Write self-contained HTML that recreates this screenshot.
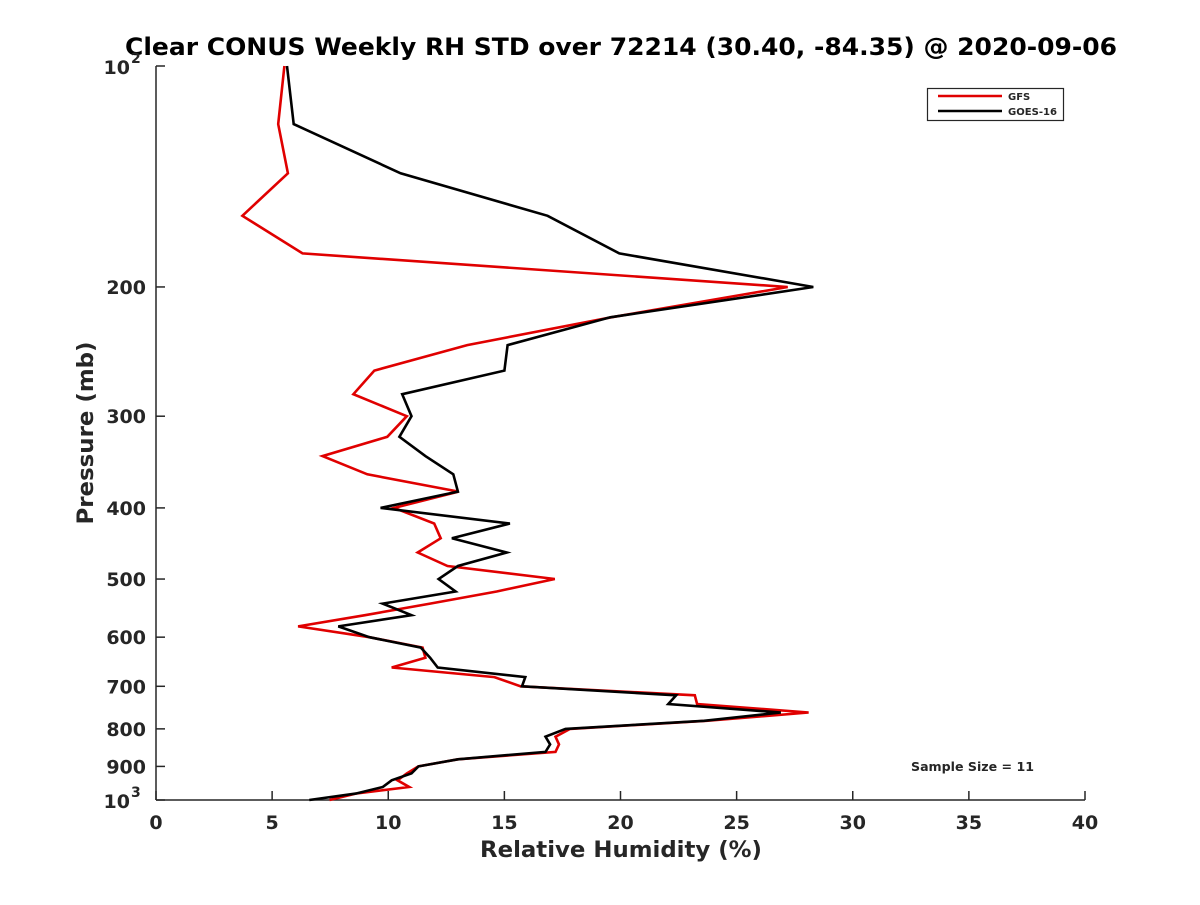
<!DOCTYPE html>
<html><head><meta charset="utf-8"><style>
html,body{margin:0;padding:0;background:#fff;}
svg text{font-family:"DejaVu Sans","Liberation Sans",sans-serif;font-weight:bold;fill:#262626;}
</style></head><body>
<svg id="chart" width="1200" height="900" viewBox="0 0 1200 900">
<rect width="1200" height="900" fill="#fff"/>
<text x="621" y="55" font-size="24" text-anchor="middle" textLength="992" lengthAdjust="spacingAndGlyphs" style="fill:#000">Clear CONUS Weekly RH STD over 72214 (30.40, -84.35) @ 2020-09-06</text>
<g id="axes"></g>
<g id="series"></g>
<text x="621" y="857" font-size="22" text-anchor="middle" textLength="282" lengthAdjust="spacingAndGlyphs">Relative Humidity (%)</text>
<text transform="translate(93,433) rotate(-90)" font-size="22" text-anchor="middle" textLength="183" lengthAdjust="spacingAndGlyphs">Pressure (mb)</text>
<text x="911" y="771" font-size="12" textLength="123" lengthAdjust="spacingAndGlyphs">Sample Size = 11</text>
<g>
<rect x="927.5" y="88.5" width="136" height="32" fill="#fff" stroke="#262626" stroke-width="1.2"/>
<line x1="938" y1="96" x2="1002" y2="96" stroke="#e00000" stroke-width="2.5"/>
<text x="1008" y="100" font-size="10">GFS</text>
<line x1="938" y1="111" x2="1002" y2="111" stroke="#000" stroke-width="2.5"/>
<text x="1008" y="115" font-size="10" textLength="49" lengthAdjust="spacingAndGlyphs">GOES-16</text>
</g>
</svg>
<script>
const pressures = [100,120,140,160,180,200,220,240,260,280,300,320,340,360,380,400,420,440,460,480,500,520,540,560,580,600,620,640,660,680,700,720,740,760,780,800,820,840,860,880,900,920,940,960,980,1000];
const gfsValues = [5.53,5.26,5.68,3.72,6.31,27.2,19.6,13.4,9.4,8.5,10.8,9.96,7.17,9.1,13.03,10.25,11.98,12.26,11.27,12.55,17.17,14.67,11.8,9.0,6.12,9.19,11.48,11.6,10.15,14.57,15.7,23.2,23.3,28.1,23.7,17.83,17.2,17.35,17.2,13.0,11.3,10.8,10.4,10.9,8.6,7.47];
const goesValues = [5.64,5.93,10.53,16.86,19.95,28.3,19.56,15.14,15.0,10.6,11.0,10.48,11.6,12.8,13.0,9.67,15.24,12.74,15.1,13.0,12.17,12.9,9.76,11.0,7.85,9.19,11.4,11.8,12.13,15.9,15.76,22.4,22.06,26.9,23.6,17.63,16.77,16.97,16.77,13.0,11.3,11.0,10.15,9.76,8.6,6.6];
const xTicks = [0,5,10,15,20,25,30,35,40];
const yTicks = [100,200,300,400,500,600,700,800,900,1000];
const yTickLabels = ["10^2","200","300","400","500","600","700","800","900","10^3"];

const X0=156, X1=1085, Y0=66, Y1=800;
function xs(v){return X0+(v-0)/(40-0)*(X1-X0);}
function ys(p){return Y0+(Math.log10(p)-2)*(Y1-Y0);}
const NS="http://www.w3.org/2000/svg";
const axes=document.getElementById('axes'), series=document.getElementById('series');
function mk(tag,attrs,parent){const e=document.createElementNS(NS,tag);for(const k in attrs)e.setAttribute(k,attrs[k]);parent.appendChild(e);return e;}

const yl=mk('line',{x1:X0,y1:Y0,x2:X0,y2:Y1,stroke:'#262626','stroke-width':1.5},axes);


const xl=mk('line',{x1:X0,y1:Y1,x2:X1,y2:Y1,stroke:'#262626','stroke-width':1.5},axes);



xTicks.forEach(t=>{
  const x=xs(t);
  const l=mk('line',{x1:x,y1:Y1,x2:x,y2:Y1-9,stroke:'#262626','stroke-width':1.5},axes);
  
  
  const tx=mk('text',{x:x,y:Y1+29,'font-size':19,'text-anchor':'middle'},axes);
  tx.textContent=String(t);
  
  
});
yTicks.forEach((t,i)=>{
  const y=ys(t);
  const l=mk('line',{x1:X0,y1:y,x2:X0+9,y2:y,stroke:'#262626','stroke-width':1.5},axes);
  
  
  const lab=yTickLabels[i];
  if(lab.indexOf('^')>=0){
    const parts=lab.split('^');
    const tx=mk('text',{x:X0-26,y:y+8,'font-size':19,'text-anchor':'end'},axes);
    tx.textContent=parts[0];
    
    
    const sup=mk('text',{x:X0-25,y:y-3,'font-size':14,'text-anchor':'start'},axes);
    sup.textContent=parts[1];
    
    
  } else {
    const tx=mk('text',{x:X0-10,y:y+7,'font-size':19,'text-anchor':'end'},axes);
    tx.textContent=lab;
    
    
  }
});

function drawLine(vals,color,name){
  const pts=vals.map((v,i)=>xs(v).toFixed(1)+','+ys(pressures[i]).toFixed(1)).join(' ');
  const pl=mk('polyline',{points:pts,fill:'none',stroke:color,'stroke-width':2.6,'stroke-linejoin':'miter'},series);
  
  
}
drawLine(gfsValues,'#e00000','gfs-line');
drawLine(goesValues,'#000000','goes16-line');
</script>
</body></html>
